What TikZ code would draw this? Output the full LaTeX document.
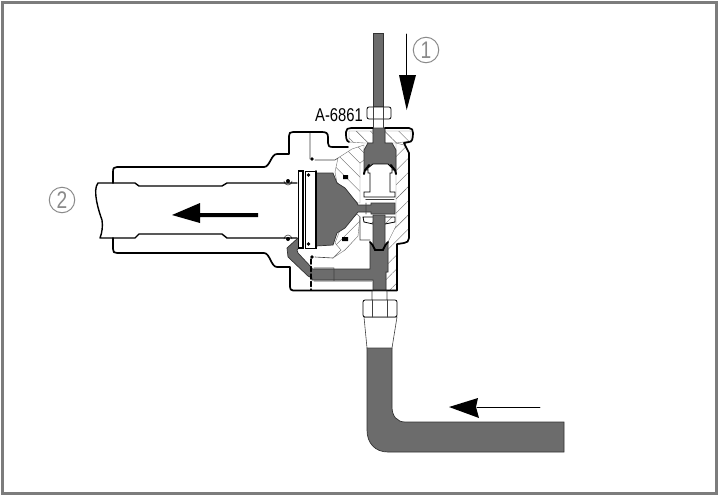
\documentclass[tikz,border=0pt]{standalone}
\usepackage{fontspec}
\usetikzlibrary{patterns.meta}
\setmainfont{Liberation Sans}
\newfontfamily\partfont[FakeStretch=.8]{Liberation Sans}
\definecolor{oilgray}{HTML}{6C6C6C}
\definecolor{framegray}{HTML}{7C7C7C}
\definecolor{markgray}{HTML}{8A8A8A}
\tikzset{
  outline/.style={line width=1.7pt,black,line join=round},
  thinline/.style={line width=.6pt,black!75},
  oil/.style={fill=oilgray,draw=black!80,line width=.7pt},
  hatchleft/.style={draw=black!55,line width=.4pt,pattern={Lines[angle=-45,distance=10pt,line width=.4pt]},pattern color=black!60},
  hatchright/.style={draw=black!55,line width=.4pt,pattern={Lines[angle=45,distance=10pt,line width=.4pt]},pattern color=black!60},
  circled/.style={circle,draw=markgray,text=markgray,line width=1pt,minimum size=25.5pt,inner sep=0pt,font=\fontsize{24}{24}\partfont},
}
\begin{document}
\begin{tikzpicture}[
    x=1pt,y=-1pt,
    line cap=round
]
  \useasboundingbox (0,0) rectangle (720,496);
  \fill[white] (0,0) rectangle (720,496);
  \draw[framegray,line width=3pt,line cap=butt] (2.5,2.5) rectangle (716.5,493.5);

  % hatched walls
  \draw[hatchleft]
    (349,131) -- (411,131) -- (411,141) -- (396,143) -- (385,143)
    -- (385,128) -- (373,128) -- (373,143) -- (364,143) -- (349,142)
    -- cycle
  ;
  \draw[hatchleft]
    (352,149) -- (338,158) -- (335,172) -- (337,183) -- (345,188)
    -- (357,203) -- (360,203) -- (360,163) -- (364,160) -- (364,145)
    -- cycle
  ;
  \draw[hatchright]
    (357,214) -- (340,230) -- (335,243) -- (341,250) -- (333,258)
    -- (345,250) -- (358,236) -- (360,217) -- cycle
  ;
  \draw[hatchright]
    (396,143) -- (404,145) -- (409,153) -- (409,238) -- (407,242)
    -- (397,245) -- (397,290) -- (386,290) -- (386,272) -- (388,272)
    -- (388,242) -- (396,226) -- cycle
  ;

  % oil
  \filldraw[oil]
    (373.5,33) rectangle (383.5,107)
  ;
  \filldraw[oil]
    (373,128) -- (385,128) -- (385,143) -- (392,143) -- (396,150)
    -- (396,170) -- (364,170) -- (364,150) -- (368,143) -- (373,143)
    -- cycle
  ;
  \filldraw[oil]
    (316,173) -- (333,173) -- (337,183) -- (345,188) -- (357,203)
    -- (358,205) -- (371,205) -- (371,203) -- (395,203) -- (395,214)
    -- (371,214) -- (371,212) -- (358,212) -- (345,228) -- (337,233)
    -- (333,245) -- (316,246) -- cycle
  ;
  \filldraw[oil]
    (370,242) -- (374,246) -- (385,246) -- (388,242) -- (388,272)
    -- (386,272) -- (386,291) -- (373,291) -- (373,280) -- (312,280)
    -- (312,278) -- (308,276) -- (288,257) -- (287,248) -- (298,238)
    -- (303,243) -- (297,250) -- (298,253) -- (312,268) -- (312,269)
    -- (370,269) -- cycle
  ;
  \filldraw[oil]
    (367,348) -- (392,348) -- (392,407)
    .. controls (392,416) and (397,422) .. (405,422)
    -- (564,422) -- (564,452) -- (388,452)
    .. controls (375,452) and (367,443) .. (367,430)
    -- cycle
  ;

  % valve
  \draw[line width=.8pt,fill=white]
    (368,173) -- (368,168) -- (373,164) -- (388,164) -- (392,168)
    -- (392,173) -- (390,173) -- (390,192) -- (395,192) -- (395,197)
    -- (364,197) -- (364,192) -- (370,192) -- (370,173) -- cycle
  ;
  \draw[line width=2pt]
    (364,174) .. controls (364,169) and (368,168) .. (369,165)
    (396,174) .. controls (396,169) and (392,168) .. (391,165)
  ;
  \draw[thinline,densely dotted,line width=1.5pt]
    (366,199.5) -- (394,199.5)
  ;
  \draw[hatchright,draw=black,line width=.8pt]
    (363,217) -- (395,217) -- (395,222) -- (385,224) -- (373,224)
    -- (364,222) -- cycle
  ;
  \filldraw[oil]
    (373,215) -- (385,215) -- (385,246) -- (382,250) -- (376,250)
    -- (373,246) -- cycle
  ;
  \draw[line width=1.8pt]
    (370,242) .. controls (372,243) and (373,246) .. (375,250)
    -- (383,250) .. controls (385,246) and (386,243) .. (388,242)
  ;

  % plates and seals
  \draw[line width=1.2pt,fill=white]
    (298.5,171) rectangle (303,248)
  ;
  \draw[line width=.8pt,fill=white]
    (305.5,171) rectangle (316,248)
  ;
  \draw[line width=1.7pt]
    (316,171) -- (316,248)
  ;
  \fill
    (308.5,175) circle (1.8pt)
    (308.5,244) circle (1.8pt)
    (288,181) circle (2pt)
    (288,239) circle (2pt)
    (312,159) circle (1.8pt)
    (312,257) circle (1.8pt)
    (343,175) rectangle (348,179)
    (342,237) rectangle (348,241)
  ;
  \draw[thinline]
    (284,181) arc[start angle=180,end angle=0,radius=4]
    (284,239) arc[start angle=180,end angle=360,radius=4]
    (310,132) -- (310,159)
    (315,160) -- (335,160) -- (338,158)
    (315,257) -- (333,258)
    (334,269) -- (334,280)
    (360,217) -- (360,240) -- (370,240)
    (366,203) -- (366,214)
    (314,268) -- (334,268)
    (314,281) -- (372,281)
  ;
  \draw[line width=1.5pt,dashed,dash pattern=on 5pt off 2.5pt]
    (311,259) -- (311,290)
  ;

  % housing and pipe
  \draw[outline]
    (113,183) -- (113,172)
    .. controls (113,168) and (114,167) .. (117,167)
    -- (264,167) .. controls (270,167) and (271,154) .. (277,154)
    -- (289,154) -- (289,136)
    .. controls (289,133) and (290,132) .. (293,132)
    -- (322,132) .. controls (326,132) and (328,133) .. (328,137)
    -- (328,143) .. controls (328,146) and (329,147) .. (333,147)
    -- (348,147)
    (349,142) .. controls (346,141) and (346,137) .. (346,132)
    .. controls (346,129) and (348,128) .. (351,128)
    -- (373,128) (385,128)
    -- (409,128) .. controls (412,128) and (413,130) .. (413,133)
    .. controls (413,139) and (412,142) .. (409,142)
    -- (404,143) -- (409,153) -- (409,238)
    .. controls (409,241) and (407,243) .. (404,243)
    -- (397,244) -- (397,290.5) -- (293,290.5)
    .. controls (291,290.5) and (290,289) .. (290,287)
    -- (290,267) -- (277,267)
    .. controls (271,267) and (270,253) .. (264,253)
    -- (117,253) .. controls (114,253) and (113,252) .. (113,249)
    -- (113,238)
  ;
  \draw[line width=1.4pt,line join=round]
    (297,183) -- (227,183) -- (222,186) -- (139,186) -- (135,183) -- (98,183)
    .. controls (92,190) and (99,212) .. (102,220)
    .. controls (103,226) and (102,233) .. (100,238)
    -- (135,238) -- (139,234) -- (222,234) -- (227,238) -- (297,238)
  ;

  % fittings
  \draw[thinline,fill=white]
    (373.5,107) rectangle (383.5,128)
    (372,291) rectangle (387,301)
    (364,317) -- (367,348) -- (392,348) -- (397,317) -- cycle
  ;
  \draw[line width=.8pt,rounded corners=2pt,fill=white]
    (367,107) rectangle (391,119)
    (363,300) rectangle (397,317)
  ;
  \draw[thinline]
    (373.5,107) -- (373.5,119) (383.5,107) -- (383.5,119)
    (372,300) -- (372,317) (387,300) -- (387,317)
  ;

  % flow arrows
  \draw[line width=.8pt] (406.7,34) -- (406.7,76);
  \fill (399,75) -- (416,75) -- (406.7,110) -- cycle;
  \fill (258,213) -- (200,213) -- (200,203) -- (172,215) -- (200,223)
    -- (200,217) -- (258,217) -- cycle;
  \draw[line width=.8pt] (540,407) -- (477,407);
  \fill (478,398) -- (449,407) -- (479,418) -- (476,407) -- cycle;

  % labels
  \node[circled] (inlet) at (426,50) {1};
  \node[circled] (outlet) at (62,200) {2};
  \node[font=\fontsize{18.5}{18.5}\partfont,inner sep=0pt] (tool) at (339,115) {A-6861};
\end{tikzpicture}
\end{document}
